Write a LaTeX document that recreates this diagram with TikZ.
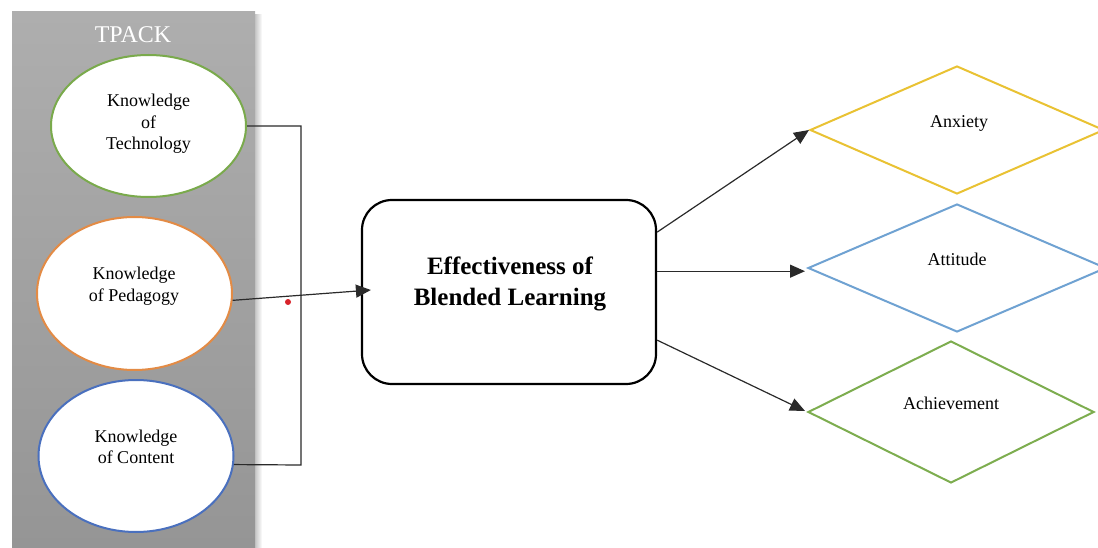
\documentclass[tikz,border=0pt]{standalone}
\usepackage{fontspec}
\setmainfont{Liberation Serif}
\usetikzlibrary{shapes.geometric,arrows.meta,calc}

\definecolor{panelTop}{HTML}{AEAEAE}
\definecolor{panelBot}{HTML}{959595}
\definecolor{kgreen}{HTML}{7AAA4C}
\definecolor{korange}{HTML}{E38B45}
\definecolor{kblue}{HTML}{4A70BE}
\definecolor{dyellow}{HTML}{E9C233}
\definecolor{dblue}{HTML}{6FA2D2}
\definecolor{dgreen}{HTML}{7DAD4F}
\definecolor{linegray}{HTML}{2A2A2A}
\definecolor{dotred}{HTML}{D8232A}

\tikzset{
  kellipse/.style={ellipse, draw, fill=white, line width=2pt,
    minimum width=195pt, inner sep=0pt},
  ktext/.style={align=center, font=\fontsize{18}{21.5}\selectfont, inner sep=0pt},
  dmd/.style={diamond, draw, fill=white, line width=2pt, inner sep=0pt},
  dtext/.style={font=\fontsize{18}{21.5}\selectfont, inner sep=0pt},
  flow/.style={draw=linegray, line width=1.2pt,
    -{Triangle[length=15pt,width=13pt]}},
  bus/.style={draw=linegray, line width=1.2pt},
}

\begin{document}
\begin{tikzpicture}[x=1pt,y=-1pt]
\useasboundingbox (0,0) rectangle (1098,548);

% grey TPACK panel with a soft shadow on its right edge
\foreach \i in {1,...,7}
  \fill[black,opacity=0.035] (255,14) rectangle (255+\i,548);
\shade[top color=panelTop, bottom color=panelBot] (12,12) rectangle (255,548);
\node[text=white, font=\fontsize{24}{28}\selectfont] (title) at (133,35) {TPACK};

% the three knowledge ellipses
\node[kellipse, draw=kgreen, minimum height=142pt] (e1) at (148.5,126) {};
\node[kellipse, draw=korange, minimum height=153pt] (e2) at (134.5,293.5) {};
\node[kellipse, draw=kblue, minimum height=152pt] (e3) at (136,456) {};
\node[ktext] (t1) at (148.5,124) {Knowledge\\of\\Technology};
\node[ktext] (t2) at (134,286) {Knowledge\\of Pedagogy};
\node[ktext] (t3) at (136,447) {Knowledge\\of Content};

% central box
\node[draw, line width=2.2pt, rounded corners=30pt, fill=white,
      minimum width=294pt, minimum height=184pt] (box) at (509,292) {};
\node[font=\bfseries\fontsize{25}{31}\selectfont, align=center, inner sep=0pt]
  (boxtext) at (510,284) {Effectiveness of\\Blended Learning};

% outcome diamonds
\node[dmd, draw=dyellow, minimum width=294pt, minimum height=128pt] (anx) at (957,130) {};
\node[dmd, draw=dblue, minimum width=298pt, minimum height=128pt] (att) at (957,268) {};
\node[dmd, draw=dgreen, minimum width=286pt, minimum height=142pt] (ach) at (951,412) {};
\node[dtext] (anxt) at (959,123) {Anxiety};
\node[dtext] (attt) at (957,259) {Attitude};
\node[dtext] (acht) at (951,403) {Achievement};

% bus joining the technology and content ellipses
\coordinate (busTop) at (301,126);
\coordinate (busBot) at (301,465);
\draw[bus] (e1.east) -- (busTop) -- (busBot) -- (e3.-5.3);

% pedagogy into the box
\draw[flow] (e2.-4) -- ([xshift=10pt,yshift=2pt]box.west);
\fill[dotred] (288,302) circle (3pt);

% box to outcomes
\draw[flow] (box.22.9) -- (anx.west);
\draw[flow] (box.8.5) -- ($(box.8.5 -| att.west)+(-2,0)$);
\draw[flow] (box.-18.1) -- ([xshift=-2pt,yshift=1pt]ach.west);
\end{tikzpicture}
\end{document}
